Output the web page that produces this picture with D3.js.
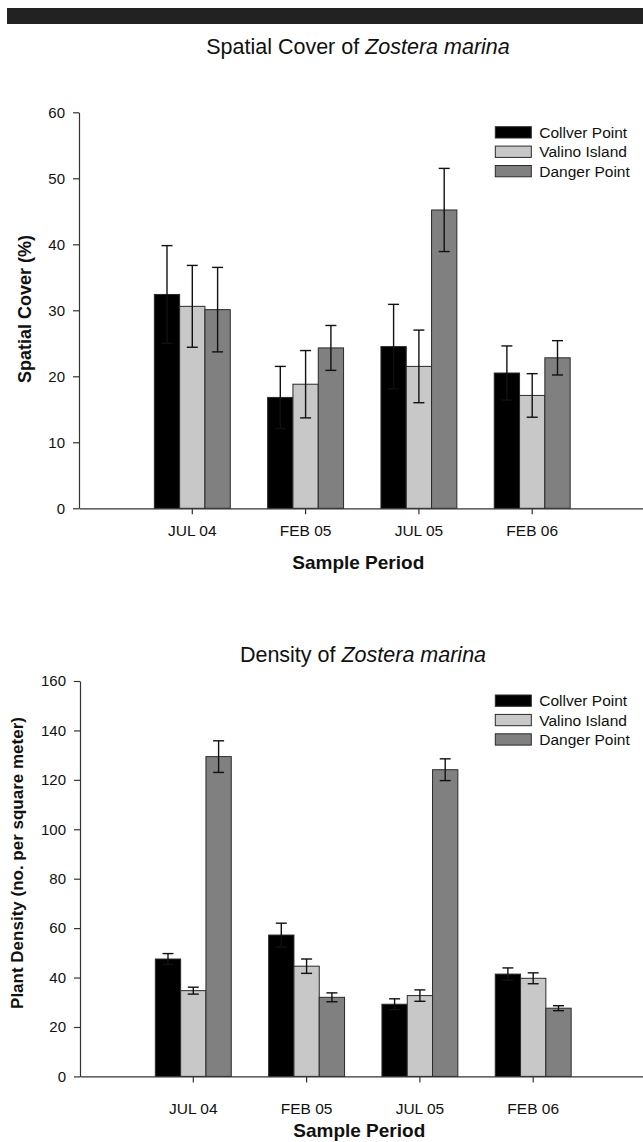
<!DOCTYPE html>
<html>
<head>
<meta charset="utf-8">
<script src="https://cdn.jsdelivr.net/npm/d3@7"></script>
<style>
  body { margin: 0; background: #fff; }
  svg { display: block; font-family: Arial, "Liberation Sans", sans-serif; }
</style>
</head>
<body>
<svg id="chart" width="643" height="1142"></svg>
<script>
//======= data =======//
let periods = ['JUL 04', 'FEB 05', 'JUL 05', 'FEB 06'];
let sites = ['Collver Point', 'Valino Island', 'Danger Point'];

let coverCollver = [32.4, 16.8, 24.5, 20.5];
let coverCollverErr = [7.4, 4.7, 6.4, 4.1];
let coverValino = [30.6, 18.8, 21.5, 17.1];
let coverValinoErr = [6.2, 5.1, 5.5, 3.3];
let coverDanger = [30.1, 24.3, 45.2, 22.8];
let coverDangerErr = [6.4, 3.4, 6.3, 2.6];
let coverTicks = [0, 10, 20, 30, 40, 50, 60];

let densCollver = [47.5, 57.2, 29.2, 41.4];
let densCollverErr = [2.2, 4.8, 2.2, 2.5];
let densValino = [34.7, 44.6, 32.7, 39.7];
let densValinoErr = [1.4, 2.9, 2.3, 2.2];
let densDanger = [129.4, 32.0, 124.1, 27.6];
let densDangerErr = [6.4, 1.8, 4.4, 1.0];
let densTicks = [0, 20, 40, 60, 80, 100, 120, 140, 160];

let siteColors = ['#000000', '#c8c8c8', '#808080'];

let svg = d3.select('#chart');

// dark band across the top of the page
svg.append('rect')
  .attr('x', 7).attr('y', 8)
  .attr('width', 636).attr('height', 16)
  .attr('fill', '#222');

function drawChart(cfg) {
  let g = svg.append('g');

  let x0 = d3.scaleBand()
    .domain(periods)
    .range([cfg.left, cfg.right])
    .paddingInner(0.33)
    .paddingOuter(0.665);

  let x1 = d3.scaleBand()
    .domain(sites)
    .range([0, x0.bandwidth()]);

  let y = d3.scaleLinear()
    .domain([0, d3.max(cfg.ticks)])
    .range([cfg.bottom, cfg.top]);

  // title
  let title = g.append('text')
    .attr('x', cfg.titleX)
    .attr('y', cfg.titleY)
    .attr('text-anchor', 'middle')
    .style('font-size', '21.5px')
    .attr('fill', '#111');
  title.append('tspan').text(cfg.title + ' ');
  title.append('tspan').style('font-style', 'italic').text('Zostera marina');

  // bars
  let rows = sites.map(function (s, i) {
    return { site: s, color: siteColors[i], values: cfg.values[i], errs: cfg.errs[i] };
  });

  rows.forEach(function (r) {
    let bars = g.append('g');
    bars.selectAll('rect')
      .data(periods)
      .enter()
      .append('rect')
      .attr('x', function (p) { return x0(p) + x1(r.site); })
      .attr('y', function (p, i) { return y(r.values[i]); })
      .attr('width', x1.bandwidth())
      .attr('height', function (p, i) { return y(0) - y(r.values[i]); })
      .attr('fill', r.color)
      .attr('stroke', '#2a2a2a')
      .attr('stroke-width', 1);
  });

  // error bars
  let capW = 11;
  rows.forEach(function (r) {
    periods.forEach(function (p, i) {
      let cx = x0(p) + x1(r.site) + x1.bandwidth() / 2;
      let hi = y(r.values[i] + r.errs[i]);
      let lo = y(r.values[i] - r.errs[i]);
      let eg = g.append('g').attr('stroke', '#111').attr('stroke-width', 1.4);
      eg.append('line').attr('x1', cx).attr('x2', cx).attr('y1', hi).attr('y2', lo);
      eg.append('line').attr('x1', cx - capW / 2).attr('x2', cx + capW / 2).attr('y1', hi).attr('y2', hi);
      eg.append('line').attr('x1', cx - capW / 2).attr('x2', cx + capW / 2).attr('y1', lo).attr('y2', lo);
    });
  });

  // y axis
  let yAxis = g.append('g')
    .attr('transform', 'translate(' + cfg.left + ',0)')
    .call(d3.axisLeft(y).tickValues(cfg.ticks).tickSizeInner(6).tickSizeOuter(0).tickPadding(8));
  yAxis.selectAll('text').style('font-size', '15px').attr('fill', '#111');

  // x axis
  let xAxis = g.append('g')
    .attr('transform', 'translate(0,' + cfg.bottom + ')')
    .call(d3.axisBottom(x0).tickSizeInner(6).tickSizeOuter(0));
  xAxis.selectAll('text')
    .attr('dy', null)
    .attr('y', cfg.tickLabelY - cfg.bottom)
    .style('font-size', '15.5px')
    .attr('fill', '#111');

  [yAxis, xAxis].forEach(function (a) {
    a.selectAll('path, line').attr('stroke', '#333').attr('stroke-width', 1.2);
  });

  // axis titles
  g.append('text')
    .attr('x', (cfg.left + cfg.right) / 2 - 4)
    .attr('y', cfg.xLabelY)
    .attr('text-anchor', 'middle')
    .style('font-size', '19px')
    .style('font-weight', 'bold')
    .attr('fill', '#111')
    .text('Sample Period');

  g.append('text')
    .attr('transform', 'translate(' + cfg.yLabelX + ',' + cfg.yLabelY + ') rotate(-90)')
    .attr('text-anchor', 'middle')
    .attr('dominant-baseline', 'central')
    .style('font-size', cfg.yLabelSize + 'px')
    .style('font-weight', 'bold')
    .attr('fill', '#111')
    .text(cfg.yLabel);

  // legend
  let legend = g.selectAll('.legend')
    .data(rows)
    .enter()
    .append('g')
    .attr('class', 'legend')
    .attr('transform', function (d, i) {
      return 'translate(495.3,' + (cfg.legendY + i * 19.4) + ')';
    });

  legend.append('rect')
    .attr('width', 36)
    .attr('height', 11.3)
    .attr('fill', function (d) { return d.color; })
    .attr('stroke', '#2a2a2a')
    .attr('stroke-width', 1);

  legend.append('text')
    .attr('x', 44)
    .attr('y', 11.3 / 2 + 5.6)
    .style('font-size', '15.5px')
    .attr('fill', '#111')
    .text(function (d) { return d.site; });
}

drawChart({
  title: 'Spatial Cover of',
  titleX: 358, titleY: 54,
  left: 79, right: 645.5, top: 112.3, bottom: 508.3,
  ticks: coverTicks,
  values: [coverCollver, coverValino, coverDanger],
  errs: [coverCollverErr, coverValinoErr, coverDangerErr],
  tickLabelY: 536, xLabelY: 569,
  yLabel: 'Spatial Cover (%)', yLabelX: 25, yLabelY: 309, yLabelSize: 18,
  legendY: 126.7
});

drawChart({
  title: 'Density of',
  titleX: 363, titleY: 661.5,
  left: 80, right: 646.5, top: 681, bottom: 1076.4,
  ticks: densTicks,
  values: [densCollver, densValino, densDanger],
  errs: [densCollverErr, densValinoErr, densDangerErr],
  tickLabelY: 1114, xLabelY: 1136.5,
  yLabel: 'Plant Density (no. per square meter)', yLabelX: 17, yLabelY: 863, yLabelSize: 17,
  legendY: 695
});
</script>
</body>
</html>
